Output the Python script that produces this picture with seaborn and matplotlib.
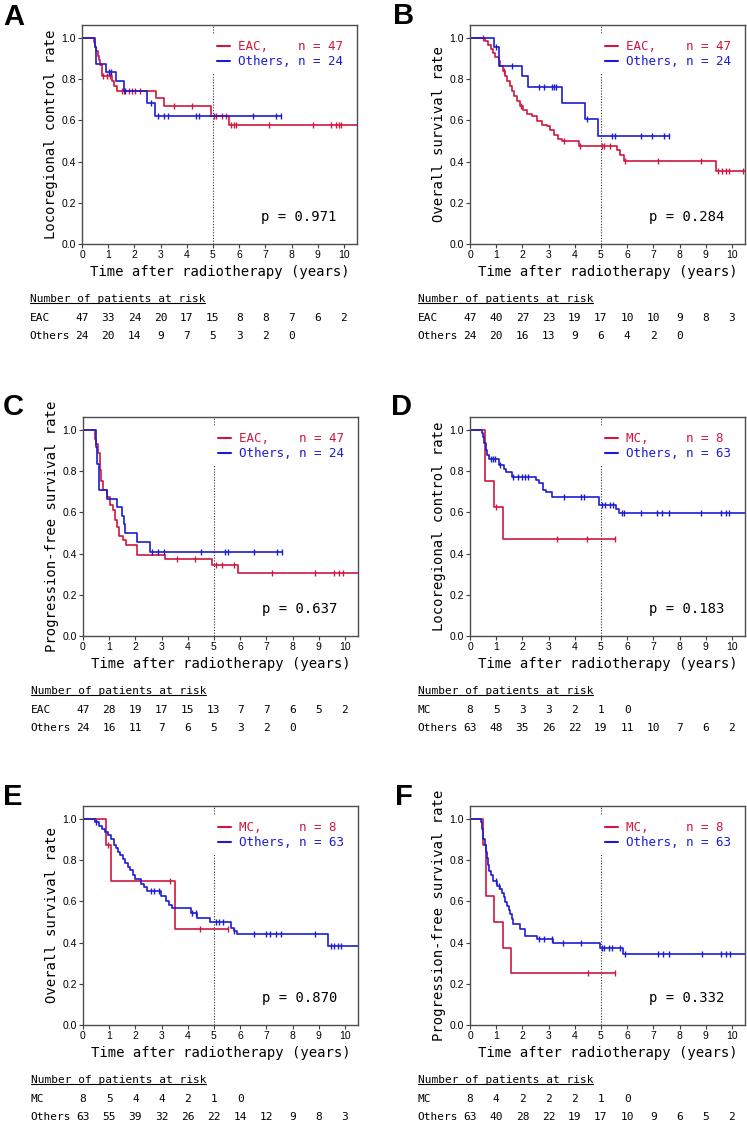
import matplotlib.pyplot as plt
import matplotlib.transforms as mtransforms
from matplotlib.lines import Line2D
import seaborn as sns
import pandas as pd
import numpy as np

# 数据：各组生存曲线的台阶（事件时间 / 生存率）、删失时间、随访终点、风险人数
# A  Locoregional control, EAC vs Others
a_eac_time = [0.45, 0.5, 0.55, 0.6, 0.65, 0.7, 0.77, 1.15, 1.24, 1.34, 2.81, 3.13, 4.92, 5.62]
a_eac_surv = [0.979, 0.957, 0.936, 0.914, 0.893, 0.871, 0.814, 0.790, 0.765, 0.741, 0.709, 0.668, 0.623, 0.578]
a_eac_cens = [0.8, 0.95, 1.08, 1.53, 1.6, 1.79, 1.92, 2.04, 2.23, 3.51, 4.21, 5.04, 5.1, 5.36, 5.49,
              5.68, 5.81, 5.87, 7.15, 8.81, 9.51, 9.71, 9.83, 9.9]
a_eac_end = 10.8
a_oth_time = [0.48, 0.54, 0.92, 1.28, 1.62, 2.49, 2.78]
a_oth_surv = [0.958, 0.875, 0.833, 0.792, 0.741, 0.684, 0.623]
a_oth_cens = [1.02, 1.1, 1.65, 2.62, 2.91, 3.13, 3.3, 4.34, 4.47, 6.51, 7.41, 7.6]
a_oth_end = 7.6
a_eac_risk = [47, 33, 24, 20, 17, 15, 8, 8, 7, 6, 2]
a_oth_risk = [24, 20, 14, 9, 7, 5, 3, 2, 0]

# B  Overall survival, EAC vs Others
b_eac_time = [0.575, 0.70, 0.79, 0.87, 0.96, 1.09, 1.15, 1.25, 1.34, 1.43, 1.51, 1.60, 1.69, 1.81, 1.92,
              2.04, 2.17, 2.36, 2.55, 2.75, 2.94, 3.07, 3.19, 3.35, 3.51, 4.15, 5.62, 5.71, 5.87, 9.39]
b_eac_surv = [0.984, 0.968, 0.947, 0.927, 0.908, 0.887, 0.862, 0.838, 0.814, 0.790, 0.765, 0.741, 0.717,
              0.693, 0.672, 0.652, 0.633, 0.620, 0.599, 0.579, 0.571, 0.552, 0.531, 0.510, 0.498, 0.477,
              0.455, 0.434, 0.405, 0.356]
b_eac_cens = [0.5, 1.28, 1.95, 3.58, 4.21, 5.04, 5.1, 5.35, 5.9, 7.18, 8.81, 9.45, 9.64, 9.77, 9.9, 10.41]
b_eac_end = 10.8
b_oth_time = [0.92, 1.12, 1.98, 2.23, 3.51, 4.4, 4.89]
b_oth_surv = [0.958, 0.862, 0.814, 0.760, 0.684, 0.608, 0.523]
b_oth_cens = [0.98, 1.6, 2.62, 2.84, 3.13, 3.22, 3.3, 4.47, 5.43, 5.53, 6.51, 6.96, 7.41, 7.6]
b_oth_end = 7.6
b_eac_risk = [47, 40, 27, 23, 19, 17, 10, 10, 9, 8, 3]
b_oth_risk = [24, 20, 16, 13, 9, 6, 4, 2, 0]

# C  Progression-free survival, EAC vs Others
c_eac_time = [0.45, 0.5, 0.57, 0.64, 0.70, 0.77, 0.92, 1.02, 1.15, 1.24, 1.30, 1.37, 1.53, 1.66, 2.07,
              3.13, 4.92, 5.9]
c_eac_surv = [0.957, 0.93, 0.887, 0.806, 0.75, 0.709, 0.676, 0.636, 0.612, 0.563, 0.53, 0.485, 0.466,
              0.442, 0.393, 0.372, 0.345, 0.304]
c_eac_cens = [3.58, 4.28, 5.08, 5.3, 5.75, 7.22, 8.84, 9.58, 9.77, 9.94]
c_eac_end = 10.8
c_oth_time = [0.49, 0.55, 0.6, 0.92, 1.28, 1.47, 1.56, 1.62, 2.08, 2.55]
c_oth_surv = [0.917, 0.833, 0.708, 0.667, 0.625, 0.583, 0.542, 0.5, 0.458, 0.41]
c_oth_cens = [2.62, 2.87, 3.1, 4.5, 5.43, 5.53, 6.51, 7.41, 7.6]
c_oth_end = 7.6
c_eac_risk = [47, 28, 19, 17, 15, 13, 7, 7, 6, 5, 2]
c_oth_risk = [24, 16, 11, 7, 6, 5, 3, 2, 0]

# D  Locoregional control, MC vs Others
d_mc_time = [0.57, 0.92, 1.25]
d_mc_surv = [0.75, 0.625, 0.469]
d_mc_cens = [1.0, 3.32, 4.47, 5.52]
d_mc_end = 5.52
d_oth_time = [0.45, 0.49, 0.54, 0.60, 0.66, 0.73, 1.09, 1.28, 1.38, 1.6, 2.53, 2.62, 2.78, 2.91, 3.13,
              4.92, 5.59, 5.68]
d_oth_surv = [0.984, 0.968, 0.935, 0.903, 0.879, 0.858, 0.83, 0.81, 0.798, 0.773, 0.757, 0.741, 0.709,
              0.70, 0.673, 0.636, 0.615, 0.595]
d_oth_cens = [0.79, 0.87, 0.96, 1.15, 1.66, 1.85, 1.98, 2.1, 2.23, 3.58, 4.25, 4.34, 5.04, 5.17, 5.36,
              5.47, 5.81, 5.87, 6.51, 7.15, 7.34, 7.6, 8.81, 9.58, 9.77, 9.9]
d_oth_end = 10.8
d_mc_risk = [8, 5, 3, 3, 2, 1, 0]
d_oth_risk = [63, 48, 35, 26, 22, 19, 11, 10, 7, 6, 2]

# E  Overall survival, MC vs Others
e_mc_time = [0.89, 1.05, 3.5]
e_mc_surv = [0.875, 0.70, 0.467]
e_mc_cens = [0.94, 3.32, 4.47, 5.52]
e_mc_end = 5.52
e_oth_time = [0.47, 0.6, 0.72, 0.85, 0.95, 1.05, 1.17, 1.25, 1.35, 1.43, 1.52, 1.62, 1.72, 1.81, 1.9,
              2.0, 2.2, 2.32, 2.45, 2.96, 3.15, 3.28, 3.41, 4.11, 4.37, 4.85, 5.64, 5.75, 5.87, 9.35]
e_oth_surv = [0.984, 0.968, 0.952, 0.937, 0.921, 0.905, 0.874, 0.858, 0.841, 0.825, 0.808, 0.784, 0.767,
              0.75, 0.73, 0.71, 0.685, 0.669, 0.652, 0.628, 0.603, 0.582, 0.567, 0.546, 0.521, 0.50,
              0.472, 0.456, 0.44, 0.385]
e_oth_cens = [0.5, 2.58, 2.71, 2.9, 4.18, 4.3, 5.07, 5.2, 5.33, 5.75, 6.54, 6.99, 7.15, 7.37, 7.56,
              8.84, 9.48, 9.6, 9.73, 9.86]
e_oth_end = 10.8
e_mc_risk = [8, 5, 4, 4, 2, 1, 0]
e_oth_risk = [63, 55, 39, 32, 26, 22, 14, 12, 9, 8, 3]

# F  Progression-free survival, MC vs Others
f_mc_time = [0.5, 0.6, 0.92, 1.25, 1.57]
f_mc_surv = [0.875, 0.625, 0.5, 0.375, 0.25]
f_mc_cens = [4.5, 5.52]
f_mc_end = 5.52
f_oth_time = [0.41, 0.46, 0.51, 0.56, 0.6, 0.64, 0.68, 0.72, 0.79, 0.89, 1.02, 1.15, 1.21, 1.28, 1.34,
              1.4, 1.47, 1.53, 1.6, 1.66, 1.9, 2.11, 2.55, 3.17, 4.98, 5.85]
f_oth_surv = [0.984, 0.952, 0.905, 0.873, 0.841, 0.81, 0.778, 0.746, 0.73, 0.698, 0.677, 0.66, 0.643,
              0.62, 0.598, 0.578, 0.558, 0.538, 0.515, 0.492, 0.465, 0.434, 0.418, 0.398, 0.374, 0.346]
f_oth_cens = [1.0, 1.1, 2.62, 2.84, 3.14, 3.55, 4.24, 5.04, 5.1, 5.3, 5.43, 5.71, 5.9, 7.18, 7.38, 7.59,
              8.85, 9.58, 9.77, 9.94]
f_oth_end = 10.8
f_mc_risk = [8, 4, 2, 2, 2, 1, 0]
f_oth_risk = [63, 40, 28, 22, 19, 17, 10, 9, 6, 5, 2]

# 样式
sns.set_style('white')
plt.rcParams['font.family'] = ['DejaVu Sans Mono', 'DejaVu Sans']
plt.rcParams['text.color'] = 'black'
plt.rcParams['axes.labelcolor'] = 'black'
plt.rcParams['xtick.color'] = 'black'
plt.rcParams['ytick.color'] = 'black'
MONO = 'DejaVu Sans Mono'
SANS = 'Liberation Sans'
RED = '#d0173f'
BLUE = '#1c1cd2'
W, H = 747, 1125
AX_W, AX_H = 275, 219

panels = [
    dict(letter='A', box=(82, 25), let=(3, 25), ylabel='Locoregional control rate', p='0.971',
         groups=[('EAC', 47, a_eac_time, a_eac_surv, a_eac_cens, a_eac_end, a_eac_risk),
                 ('Others', 24, a_oth_time, a_oth_surv, a_oth_cens, a_oth_end, a_oth_risk)]),
    dict(letter='B', box=(470, 25), let=(393, 24), ylabel='Overall survival rate', p='0.284',
         groups=[('EAC', 47, b_eac_time, b_eac_surv, b_eac_cens, b_eac_end, b_eac_risk),
                 ('Others', 24, b_oth_time, b_oth_surv, b_oth_cens, b_oth_end, b_oth_risk)]),
    dict(letter='C', box=(83, 417), let=(3, 415), ylabel='Progression-free survival rate', p='0.637',
         groups=[('EAC', 47, c_eac_time, c_eac_surv, c_eac_cens, c_eac_end, c_eac_risk),
                 ('Others', 24, c_oth_time, c_oth_surv, c_oth_cens, c_oth_end, c_oth_risk)]),
    dict(letter='D', box=(470, 417), let=(391, 415), ylabel='Locoregional control rate', p='0.183',
         groups=[('MC', 8, d_mc_time, d_mc_surv, d_mc_cens, d_mc_end, d_mc_risk),
                 ('Others', 63, d_oth_time, d_oth_surv, d_oth_cens, d_oth_end, d_oth_risk)]),
    dict(letter='E', box=(83, 806), let=(3, 805), ylabel='Overall survival rate', p='0.870',
         groups=[('MC', 8, e_mc_time, e_mc_surv, e_mc_cens, e_mc_end, e_mc_risk),
                 ('Others', 63, e_oth_time, e_oth_surv, e_oth_cens, e_oth_end, e_oth_risk)]),
    dict(letter='F', box=(470, 806), let=(395, 805), ylabel='Progression-free survival rate', p='0.332',
         groups=[('MC', 8, f_mc_time, f_mc_surv, f_mc_cens, f_mc_end, f_mc_risk),
                 ('Others', 63, f_oth_time, f_oth_surv, f_oth_cens, f_oth_end, f_oth_risk)]),
]


def step_value(times, survs, t):
    idx = np.searchsorted(times, t, side='right') - 1
    return 1.0 if idx < 0 else survs[idx]


fig = plt.figure(figsize=(W / 100, H / 100), dpi=100)
risk_titles = []

for panel in panels:
    left, top = panel['box']
    ax = fig.add_axes([left / W, 1 - (top + AX_H) / H, AX_W / W, AX_H / H])
    colors = [RED, BLUE]
    handles, labels = [], []

    for (name, n, times, survs, cens, end, risk), color in zip(panel['groups'], colors):
        # KM 阶梯曲线
        curve = pd.DataFrame({'time': [0.0] + times + [end],
                              'surv': [1.0] + survs + [survs[-1]]})
        sns.lineplot(data=curve, x='time', y='surv', ax=ax, color=color, lw=1.2,
                     drawstyle='steps-post', estimator=None, sort=False, clip_on=True)
        # 删失标记
        cens_y = [step_value(times, survs, t) for t in cens]
        ax.plot(cens, cens_y, ls='none', marker='|', ms=5, mew=1.0, color=color)
        handles.append(Line2D([], [], color=color, lw=1.5))
        labels.append(f"{name + ',':<8}n = {n}")

    ax.axvline(5, color='#333333', ls=(0, (1, 1.5)), lw=0.8, zorder=1)

    ax.set_xlim(0, 10.5)
    ax.set_ylim(0, 1.063)
    ax.set_xticks(range(0, 11))
    ax.set_yticks([0, 0.2, 0.4, 0.6, 0.8, 1.0])
    ax.set_yticklabels([f'{v:.1f}' for v in [0, 0.2, 0.4, 0.6, 0.8, 1.0]])
    ax.tick_params(direction='out', length=3, width=0.8, color='#404040', pad=1.5,
                   labelsize=7.5, labelfontfamily=SANS, labelcolor='black', left=True, bottom=True)
    for sp in ax.spines.values():
        sp.set_color('#4d4d4d')
        sp.set_linewidth(1.0)

    ax.set_xlabel('Time after radiotherapy (years)', fontsize=10, family=MONO, color='black')
    ax.xaxis.set_label_coords(0.5, -21 / AX_H)
    ax.set_ylabel(panel['ylabel'], fontsize=10, family=MONO, color='black')
    ax.yaxis.set_label_coords(-24 / AX_W, 0.5)

    leg = ax.legend(handles, labels, loc='upper right', bbox_to_anchor=(0.971, 0.96),
                    borderaxespad=0, frameon=True, facecolor='white', edgecolor='none',
                    framealpha=1, fancybox=False, borderpad=0.5, labelcolor='linecolor',
                    handlelength=1.05, handletextpad=0.64, labelspacing=0.15,
                    prop={'family': MONO, 'size': 9})
    leg.set_zorder(5)

    ax.text(0.925, 0.123, f"p = {panel['p']}", transform=ax.transAxes, ha='right',
            va='center', fontsize=10, family=MONO, color='black')

    # 风险人数表
    trans = mtransforms.blended_transform_factory(ax.transData, ax.transAxes)
    title = ax.text(-2.0, -55 / AX_H, 'Number of patients at risk', transform=trans,
                    ha='left', va='center', fontsize=8, family=MONO, color='black')
    risk_titles.append(title)
    for row, (name, n, times, survs, cens, end, risk) in enumerate(panel['groups']):
        y = (-74 - 18 * row) / AX_H
        ax.text(-2.0, y, name, transform=trans, ha='left', va='center', fontsize=8,
                family=MONO, color='black')
        for i, count in enumerate(risk):
            ax.text(i, y, str(count), transform=trans, ha='center', va='center',
                    fontsize=8, family=MONO, color='black')

    lx, ly = panel['let']
    fig.text(lx / W, 1 - ly / H, panel['letter'], fontsize=21, fontweight='bold',
             family=SANS, ha='left', va='baseline', color='black')

# 给 "Number of patients at risk" 加下划线
fig.canvas.draw()
renderer = fig.canvas.get_renderer()
for title in risk_titles:
    bb = title.get_window_extent(renderer).transformed(fig.transFigure.inverted())
    y0 = bb.y0 + 1.0 / H
    fig.add_artist(Line2D([bb.x0, bb.x1], [y0, y0], color='black', lw=0.8))

fig.savefig('out.png', dpi=100)
